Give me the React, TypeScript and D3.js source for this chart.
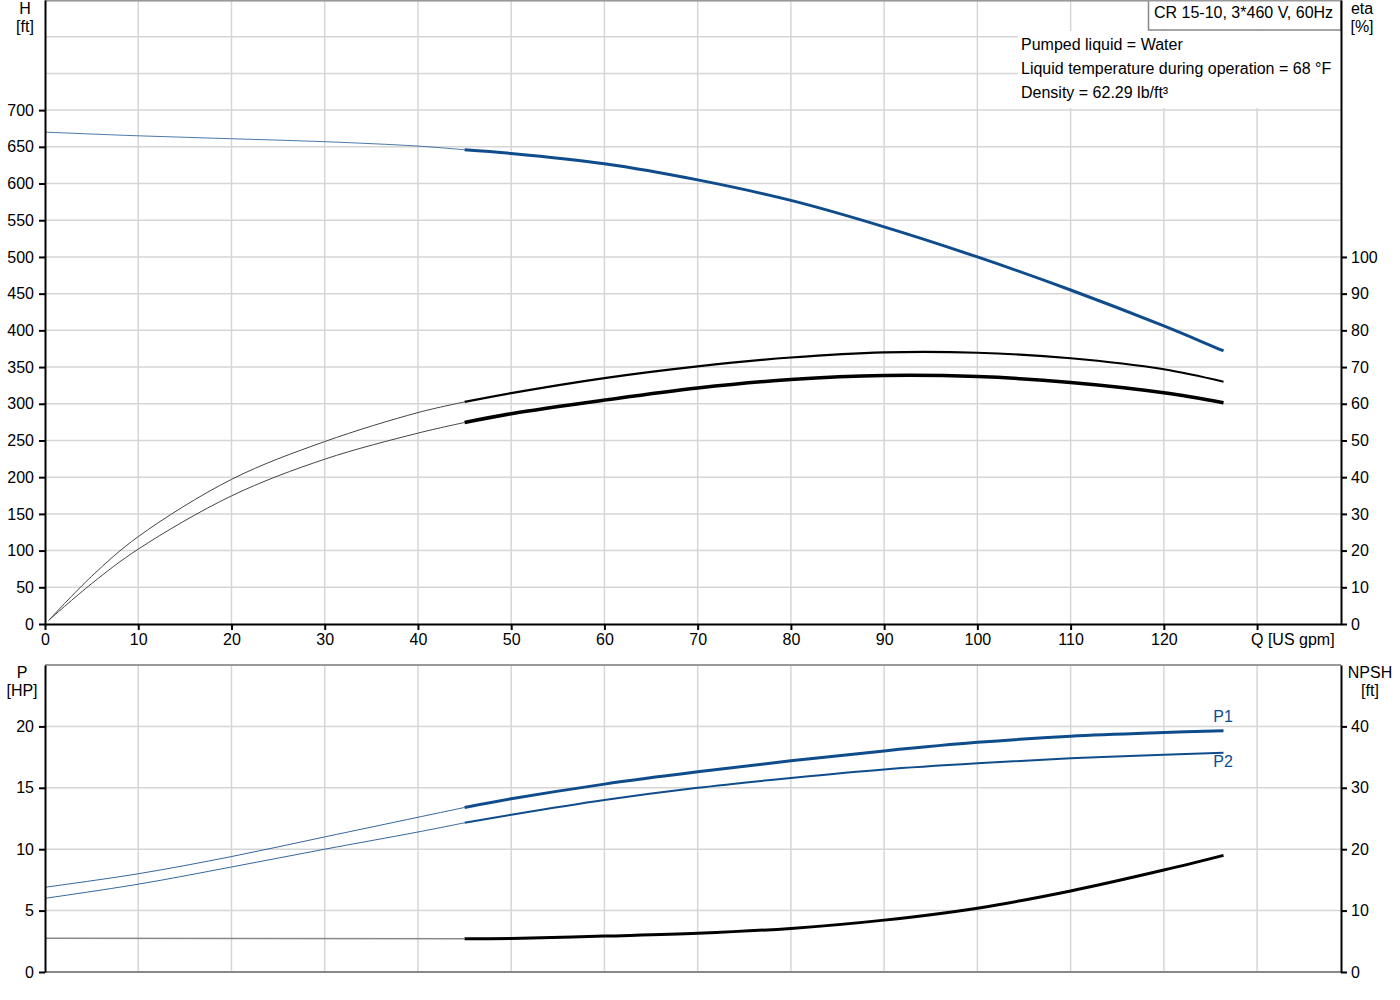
import React, { useEffect, useRef } from 'react';
import * as d3 from 'd3';

// Flow values (US gpm) for the thin (extrapolated) and thick (working range) parts
const qThin = [0, 10, 20, 30, 40, 45];
const qThick = [45, 50, 60, 70, 80, 90, 100, 110, 120, 126.4];

// Head [ft]
const headThin = [670, 665, 661, 657, 651, 646];
const headThick = [646, 641, 627, 605, 577, 541, 500, 455, 406, 372];

// Efficiency curves [%] (start slightly off zero flow)
const qEtaThin = [0.4, 5, 10, 20, 30, 40, 45];
const etaPumpThin = [1, 13, 23.8, 39.4, 49.7, 57.6, 60.5];
const etaPumpThick = [60.5, 62.9, 67, 70.2, 72.6, 74.0, 73.9, 72.4, 69.4, 66.0];
const etaTotalThin = [1, 11, 20.4, 34.9, 44.9, 52, 54.9];
const etaTotalThick = [54.9, 57.3, 61, 64.3, 66.6, 67.7, 67.4, 65.8, 63.0, 60.3];

// Power [HP]
const p1Thin = [6.9, 8.0, 9.4, 11.0, 12.6, 13.4];
const p1Thick = [13.4, 14.1, 15.3, 16.3, 17.2, 18.0, 18.7, 19.2, 19.5, 19.65];
const p2Thin = [6.0, 7.15, 8.55, 10.0, 11.4, 12.15];
const p2Thick = [12.15, 12.8, 14.0, 15.0, 15.8, 16.5, 17.0, 17.4, 17.7, 17.85];

// NPSH [ft]
const npshThin = [5.5, 5.4];
const qNpshThin = [0, 45];
const npshThick = [5.4, 5.45, 5.85, 6.3, 7.1, 8.45, 10.4, 13.2, 16.6, 19.0];

// Tick values
const headTicks = d3.range(0, 701, 50);
const headGrid = d3.range(50, 851, 50);
const etaTicks = d3.range(0, 101, 10);
const qTicks = d3.range(0, 121, 10);
const qGrid = d3.range(10, 131, 10);
const powerTicks = [0, 5, 10, 15, 20];
const powerGrid = [5, 10, 15, 20];
const npshTicks = [0, 10, 20, 30, 40];

const infoLines = [
  'Pumped liquid = Water',
  'Liquid temperature during operation = 68 °F',
  'Density = 62.29 lb/ft³',
];

const BLUE = '#0f4c8c';
const GRID = '#d6d6d6';
const FONT = '"Liberation Sans", Arial, sans-serif';

const App: React.FC = () => {
  const svgRef = useRef<SVGSVGElement>(null);

  useEffect(() => {
    if (!svgRef.current) return;
    const svg = d3.select(svgRef.current);
    svg.selectAll('*').remove();

    const left = 45;
    const right = 1341;

    const x = d3.scaleLinear().domain([0, 139]).range([left, right]);
    const yH = d3.scaleLinear().domain([0, 850]).range([624, 0]);
    const yEta = d3.scaleLinear().domain([0, 170]).range([624, 0]);
    const yP = d3.scaleLinear().domain([0, 25]).range([972, 665]);
    const yN = d3.scaleLinear().domain([0, 50]).range([972, 665]);

    const g = svg.append('g').attr('font-family', FONT).attr('font-size', 16);

    // --- grid: top plot
    const grid = g.append('g').attr('stroke', GRID).attr('stroke-width', 1.5);
    grid.selectAll('line.hq')
      .data(headGrid)
      .join('line')
      .attr('x1', left).attr('x2', right)
      .attr('y1', d => yH(d) + (d === 850 ? 0.75 : 0))
      .attr('y2', d => yH(d) + (d === 850 ? 0.75 : 0));
    grid.selectAll('line.vq')
      .data(qGrid)
      .join('line')
      .attr('x1', d => x(d)).attr('x2', d => x(d))
      .attr('y1', 0).attr('y2', 624);

    // --- grid: bottom plot
    const grid2 = g.append('g').attr('stroke', GRID).attr('stroke-width', 1.5);
    grid2.selectAll('line')
      .data(powerGrid)
      .join('line')
      .attr('x1', left).attr('x2', right)
      .attr('y1', d => yP(d)).attr('y2', d => yP(d));
    grid2.append('g').selectAll('line')
      .data(qGrid)
      .join('line')
      .attr('x1', d => x(d)).attr('x2', d => x(d))
      .attr('y1', 665).attr('y2', 972);

    // info box and legend box
    g.append('rect')
      .attr('x', 1018).attr('y', 31).attr('width', right - 1018).attr('height', 77)
      .attr('fill', '#fff');
    g.append('rect')
      .attr('x', 1148.5).attr('y', -1).attr('width', right - 1148.5).attr('height', 31)
      .attr('fill', '#fff').attr('stroke', '#888').attr('stroke-width', 1.5);
    g.append('text')
      .attr('x', 1154).attr('y', 17.5)
      .text('CR 15-10, 3*460 V, 60Hz');
    g.selectAll('text.info')
      .data(infoLines)
      .join('text')
      .attr('x', 1021)
      .attr('y', (_, i) => 50 + i * 24)
      .text(d => d);

    // --- curves
    const drawCurve = (
      qs: number[],
      vs: number[],
      y: d3.ScaleLinear<number, number>,
      color: string,
      width: number,
      opacity = 1,
    ) => {
      const line = d3.line<number>()
        .x((_, i) => x(qs[i]))
        .y(d => y(d))
        .curve(d3.curveCatmullRom.alpha(0.5));
      g.append('path')
        .datum(vs)
        .attr('d', line)
        .attr('fill', 'none')
        .attr('stroke', color)
        .attr('stroke-width', width)
        .attr('stroke-opacity', opacity)
        .attr('stroke-linecap', 'butt');
    };

    drawCurve(qThin, headThin, yH, BLUE, 1, 0.75);
    drawCurve(qThick, headThick, yH, BLUE, 3);

    drawCurve(qEtaThin, etaPumpThin, yEta, '#444', 1);
    drawCurve(qThick, etaPumpThick, yEta, '#000', 2.2);
    drawCurve(qEtaThin, etaTotalThin, yEta, '#444', 1);
    drawCurve(qThick, etaTotalThick, yEta, '#000', 3.5);

    drawCurve(qThin, p1Thin, yP, BLUE, 1, 0.85);
    drawCurve(qThick, p1Thick, yP, BLUE, 3);
    drawCurve(qThin, p2Thin, yP, BLUE, 1, 0.85);
    drawCurve(qThick, p2Thick, yP, BLUE, 2);

    drawCurve(qNpshThin, npshThin, yN, '#888', 1.5);
    drawCurve(qThick, npshThick, yN, '#000', 3);

    g.append('text').attr('x', 1223).attr('y', 722).attr('text-anchor', 'middle')
      .attr('fill', BLUE).text('P1');
    g.append('text').attr('x', 1223).attr('y', 767).attr('text-anchor', 'middle')
      .attr('fill', BLUE).text('P2');

    // --- axes
    const styleAxis = (sel: d3.Selection<SVGGElement, unknown, null, undefined>, color = '#000') => {
      sel.attr('font-family', FONT).attr('font-size', 16);
      sel.select('.domain').attr('stroke', color).attr('stroke-width', 2);
      sel.selectAll('.tick line').attr('stroke', '#000').attr('stroke-width', 2);
      sel.selectAll('.tick text').attr('fill', '#000');
    };

    // top plot border
    g.append('line')
      .attr('x1', left).attr('x2', right).attr('y1', 0.75).attr('y2', 0.75)
      .attr('stroke', '#999').attr('stroke-width', 1.5);

    g.append('g')
      .attr('transform', `translate(${left},0)`)
      .call(d3.axisLeft(yH).tickValues(headTicks).tickSize(6).tickSizeOuter(0).tickPadding(5))
      .call(s => styleAxis(s));
    g.append('g')
      .attr('transform', `translate(${right},0)`)
      .call(d3.axisRight(yEta).tickValues(etaTicks).tickSize(6).tickSizeOuter(0).tickPadding(4))
      .call(s => styleAxis(s));
    g.append('g')
      .attr('transform', 'translate(0,624)')
      .call(d3.axisBottom(x).tickValues([...qTicks, 130]).tickSize(6).tickSizeOuter(0).tickPadding(4)
        .tickFormat(d => (+d === 130 ? '' : String(d))))
      .call(s => styleAxis(s));

    // bottom plot
    g.append('line')
      .attr('x1', left).attr('x2', right).attr('y1', 665).attr('y2', 665)
      .attr('stroke', '#999').attr('stroke-width', 2);
    g.append('line')
      .attr('x1', left).attr('x2', right).attr('y1', 972).attr('y2', 972)
      .attr('stroke', '#888').attr('stroke-width', 2);
    g.append('g')
      .attr('transform', `translate(${left},0)`)
      .call(d3.axisLeft(yP).tickValues(powerTicks).tickSize(6).tickSizeOuter(0).tickPadding(5))
      .call(s => styleAxis(s));
    g.append('g')
      .attr('transform', `translate(${right},0)`)
      .call(d3.axisRight(yN).tickValues(npshTicks).tickSize(6).tickSizeOuter(0).tickPadding(4))
      .call(s => styleAxis(s));

    // axis titles
    const title = (tx: number, ty: number, label: string, anchor = 'middle') =>
      g.append('text').attr('x', tx).attr('y', ty).attr('text-anchor', anchor).text(label);
    title(25, 14, 'H');
    title(25, 32, '[ft]');
    title(1362, 14, 'eta');
    title(1362, 32, '[%]');
    title(1251, 645, 'Q [US gpm]', 'start');
    title(22, 678, 'P');
    title(22, 696, '[HP]');
    title(1370, 678, 'NPSH');
    title(1370, 696, '[ft]');
  }, []);

  return (
    <svg
      ref={svgRef}
      width={1400}
      height={1000}
      style={{ position: 'absolute', left: 0, top: 0, background: '#fff' }}
    />
  );
};

export default App;
